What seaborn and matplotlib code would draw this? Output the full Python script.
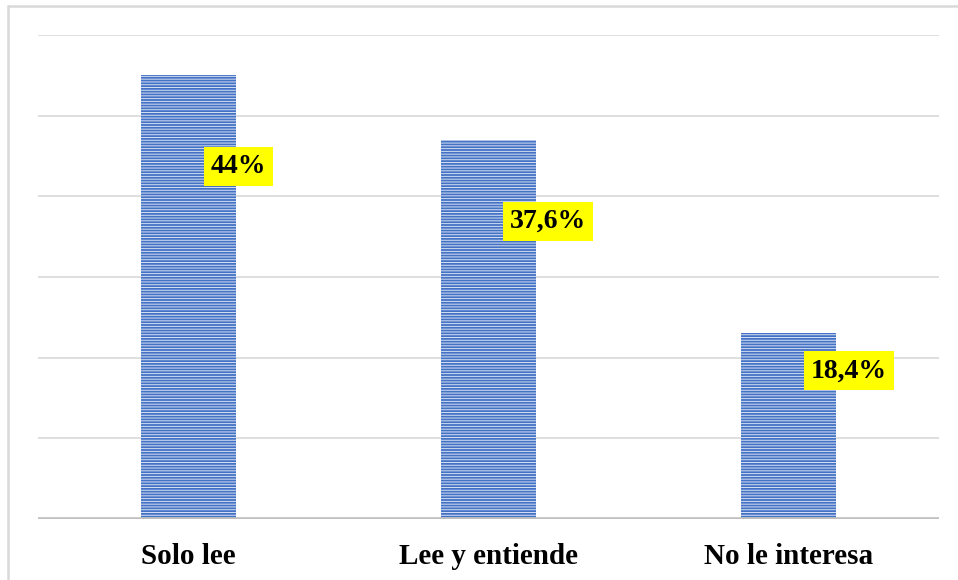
import matplotlib
matplotlib.use("Agg")
import matplotlib.pyplot as plt
from matplotlib.lines import Line2D
import seaborn as sns
import pandas as pd

categories = ["Solo lee", "Lee y entiende", "No le interesa"]
values = [44.0, 37.6, 18.4]
value_labels = ["44%", "37,6%", "18,4%"]

# where each yellow label sits, relative to its bar (x: categories, y: value units)
label_dx = [0.167, 0.197, 0.20]
label_dy = [-9.0, -8.1, -3.7]

sns.set_theme(style="white")
plt.rcParams["font.family"] = ["Liberation Serif", "DejaVu Serif"]
plt.rcParams["hatch.linewidth"] = 0.7

df = pd.DataFrame({"cat": categories, "val": values})

fig = plt.figure(figsize=(9.58, 5.80), dpi=100)
ax = fig.add_axes([38 / 958, 61 / 580, 901 / 958, (519 - 35) / 580])

sns.barplot(data=df, x="cat", y="val", ax=ax, color="#4472C4",
            width=0.317, saturation=1, zorder=3)
for p in ax.patches:
    p.set_facecolor("#4472C4")
    p.set_edgecolor("#d6e0f2")
    p.set_linewidth(0)
    p.set_hatch("------")

ax.set_ylim(0, 48)
ax.set_xlim(-0.5, 2.5)
ax.set_yticks(range(0, 49, 8))
ax.yaxis.grid(True, color="#d9d9d9", linewidth=1.2, zorder=0)
ax.set_yticklabels([])
ax.tick_params(axis="y", length=0)
ax.tick_params(axis="x", length=0, pad=17)
for s in ax.spines.values():
    s.set_visible(False)
ax.axhline(0, color="#bfbfbf", linewidth=2.6, zorder=4)
ax.set_xlabel("")
ax.set_ylabel("")
for lab in ax.get_xticklabels():
    lab.set_fontsize(21)
    lab.set_fontweight("bold")
    lab.set_color("black")

for i, (v, t) in enumerate(zip(values, value_labels)):
    ax.text(i + label_dx[i], v + label_dy[i], t, ha="center", va="center",
            fontsize=20, fontweight="bold", color="black", zorder=5,
            bbox=dict(facecolor="#ffff00", edgecolor="none", pad=5))

# outer chart frame (left and top only visible)
fig.add_artist(Line2D([8 / 958, 8 / 958], [0, 1 - 6 / 580], color="#d9d9d9",
                      linewidth=1.8, transform=fig.transFigure))
fig.add_artist(Line2D([8 / 958, 1], [1 - 6 / 580, 1 - 6 / 580], color="#d9d9d9",
                      linewidth=1.8, transform=fig.transFigure))

fig.savefig("out.png", dpi=100, facecolor="white")
